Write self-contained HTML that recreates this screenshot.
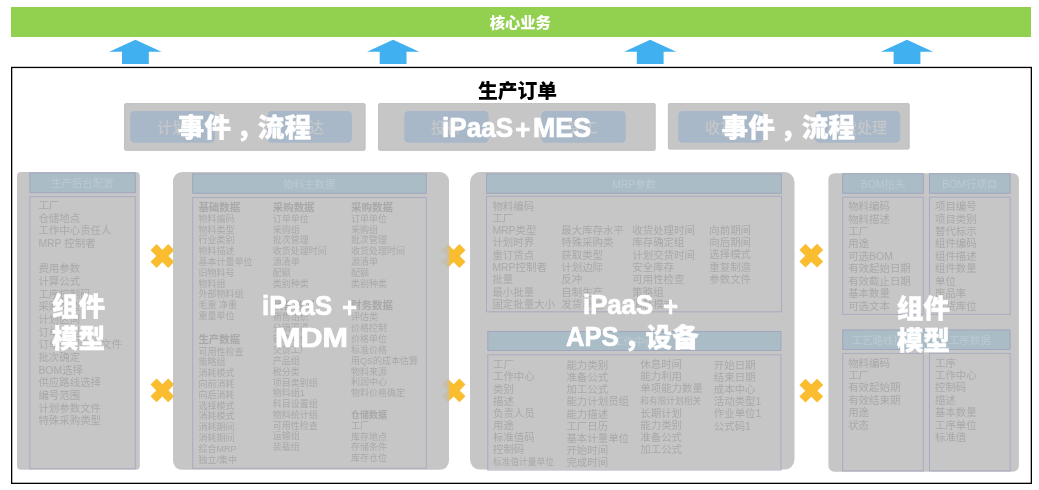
<!DOCTYPE html>
<html lang="zh-CN">
<head>
<meta charset="utf-8">
<title>核心业务 - 生产订单</title>
<style>
html,body{margin:0;padding:0;background:#fff;}
body{width:1039px;height:490px;position:relative;overflow:hidden;font-family:"Liberation Sans","Noto Sans CJK SC",sans-serif;}
svg.bg{position:absolute;left:0;top:0;}
#txt{position:absolute;left:0;top:0;width:1039px;height:490px;will-change:transform;}
.t{position:absolute;white-space:nowrap;margin:0;padding:0;}
.c{text-align:center;}
.n{color:#a9a9a9;}
.n b{color:#a8a8a8;font-weight:bold;}
.n small{font-size:8.7px;}
.h{color:#bccad1;}
.p{color:#c5c7c9;font-weight:500;}
.w{color:#fff;font-weight:900;}
.k{color:#000;font-weight:bold;}
.W{color:#fff;font-weight:900;-webkit-text-stroke:0.35px #fff;}
.L{-webkit-text-stroke:0.7px #fff;}
</style>
</head>
<body>
<svg class="bg" width="1039" height="490" viewBox="0 0 1039 490">
<rect x="11.00" y="7.00" width="1020.00" height="30.00" fill="#92d050"/>
<polygon points="135.40,39.80 161.50,51.70 148.80,51.70 148.80,63.90 122.00,63.90 122.00,51.70 109.30,51.70" fill="#40b0f0"/>
<polygon points="393.10,39.80 419.20,51.70 406.50,51.70 406.50,63.90 379.70,63.90 379.70,51.70 367.00,51.70" fill="#40b0f0"/>
<polygon points="650.20,39.80 676.30,51.70 663.60,51.70 663.60,63.90 636.80,63.90 636.80,51.70 624.10,51.70" fill="#40b0f0"/>
<polygon points="907.00,39.80 933.10,51.70 920.40,51.70 920.40,63.90 893.60,63.90 893.60,51.70 880.90,51.70" fill="#40b0f0"/>
<rect x="11.65" y="67.45" width="1019.7" height="415.9" fill="#fff" stroke="#000" stroke-width="1.3"/>
<polygon points="162.40,249.90 168.20,244.10 174.30,250.20 168.50,256.00 174.30,261.80 168.20,267.90 162.40,262.10 156.60,267.90 150.50,261.80 156.30,256.00 150.50,250.20 156.60,244.10" fill="#f9bd2f"/>
<polygon points="453.60,249.90 459.40,244.10 465.50,250.20 459.70,256.00 465.50,261.80 459.40,267.90 453.60,262.10 447.80,267.90 441.70,261.80 447.50,256.00 441.70,250.20 447.80,244.10" fill="#f9bd2f"/>
<polygon points="811.30,249.60 817.10,243.80 823.20,249.90 817.40,255.70 823.20,261.50 817.10,267.60 811.30,261.80 805.50,267.60 799.40,261.50 805.20,255.70 799.40,249.90 805.50,243.80" fill="#f9bd2f"/>
<polygon points="162.40,384.30 168.20,378.50 174.30,384.60 168.50,390.40 174.30,396.20 168.20,402.30 162.40,396.50 156.60,402.30 150.50,396.20 156.30,390.40 150.50,384.60 156.60,378.50" fill="#f9bd2f"/>
<polygon points="453.60,384.30 459.40,378.50 465.50,384.60 459.70,390.40 465.50,396.20 459.40,402.30 453.60,396.50 447.80,402.30 441.70,396.20 447.50,390.40 441.70,384.60 447.80,378.50" fill="#f9bd2f"/>
<polygon points="811.30,384.60 817.10,378.80 823.20,384.90 817.40,390.70 823.20,396.50 817.10,402.60 811.30,396.80 805.50,402.60 799.40,396.50 805.20,390.70 799.40,384.90 805.50,378.80" fill="#f9bd2f"/>
<rect x="124.60" y="103.60" width="240.50" height="46.70" fill="#c6c6c6" rx="1.2" stroke="#bfbfbf" stroke-width="1"/>
<rect x="378.60" y="103.60" width="276.60" height="46.70" fill="#c6c6c6" rx="1.2" stroke="#bfbfbf" stroke-width="1"/>
<rect x="668.40" y="103.60" width="240.80" height="45.50" fill="#c6c6c6" rx="1.2" stroke="#bfbfbf" stroke-width="1"/>
<rect x="130.10" y="110.90" width="84.90" height="31.90" fill="#a8b8c8" rx="4.6"/>
<rect x="267.40" y="110.90" width="84.50" height="31.90" fill="#a8b8c8" rx="4.6"/>
<rect x="404.20" y="110.90" width="84.50" height="31.90" fill="#a8b8c8" rx="4.6"/>
<rect x="541.20" y="110.90" width="84.50" height="31.90" fill="#a8b8c8" rx="4.6"/>
<rect x="678.20" y="110.90" width="84.80" height="31.90" fill="#a8b8c8" rx="4.6"/>
<rect x="814.90" y="110.90" width="85.30" height="31.90" fill="#a8b8c8" rx="4.6"/>
<defs><clipPath id="cp2"><rect x="173" y="172" width="276" height="298"/></clipPath></defs>
<rect x="17.00" y="172.00" width="122.80" height="297.70" fill="#c6c6c6" rx="4"/>
<rect x="173.00" y="172.00" width="276.00" height="297.80" fill="#c6c6c6" rx="9"/>
<rect x="470.00" y="172.00" width="324.50" height="297.60" fill="#c6c6c6" rx="10"/>
<rect x="828.40" y="173.20" width="190.50" height="298.60" fill="#c6c6c6" rx="6"/>
<polygon points="453.60,249.90 459.40,244.10 465.50,250.20 459.70,256.00 465.50,261.80 459.40,267.90 453.60,262.10 447.80,267.90 441.70,261.80 447.50,256.00 441.70,250.20 447.80,244.10" fill="#c7bfa9" clip-path="url(#cp2)"/>
<polygon points="453.60,384.30 459.40,378.50 465.50,384.60 459.70,390.40 465.50,396.20 459.40,402.30 453.60,396.50 447.80,402.30 441.70,396.20 447.50,390.40 441.70,384.60 447.80,378.50" fill="#c7bfa9" clip-path="url(#cp2)"/>
<rect x="29.90" y="172.90" width="105.40" height="19.80" fill="#aabcc6" stroke="#a2a6bf" stroke-width="1"/>
<rect x="29.90" y="196.70" width="105.40" height="272.00" fill="none" stroke="#a9abc1" stroke-width="1"/>
<rect x="192.70" y="173.90" width="233.60" height="19.40" fill="#aabcc6" stroke="#a2a6bf" stroke-width="1"/>
<rect x="192.70" y="197.50" width="233.60" height="270.80" fill="none" stroke="#a9abc1" stroke-width="1"/>
<rect x="486.50" y="173.90" width="295.00" height="19.40" fill="#aabcc6" stroke="#a2a6bf" stroke-width="1"/>
<rect x="486.50" y="196.30" width="295.00" height="115.50" fill="none" stroke="#a9abc1" stroke-width="1"/>
<rect x="487.80" y="331.50" width="293.20" height="19.00" fill="#aabcc6" stroke="#a2a6bf" stroke-width="1"/>
<rect x="487.80" y="354.80" width="293.20" height="115.20" fill="none" stroke="#a9abc1" stroke-width="1"/>
<rect x="842.70" y="173.70" width="80.60" height="19.60" fill="#aabcc6" stroke="#a2a6bf" stroke-width="1"/>
<rect x="929.50" y="173.70" width="80.60" height="19.60" fill="#aabcc6" stroke="#a2a6bf" stroke-width="1"/>
<rect x="842.70" y="197.10" width="80.60" height="117.30" fill="none" stroke="#a9abc1" stroke-width="1"/>
<rect x="929.50" y="197.10" width="80.60" height="117.30" fill="none" stroke="#a9abc1" stroke-width="1"/>
<rect x="842.70" y="329.90" width="167.40" height="19.60" fill="#aabcc6" stroke="#a2a6bf" stroke-width="1"/>
<rect x="842.70" y="353.40" width="80.60" height="117.50" fill="none" stroke="#a9abc1" stroke-width="1"/>
<rect x="929.50" y="353.40" width="80.60" height="117.50" fill="none" stroke="#a9abc1" stroke-width="1"/>
</svg>
<div id="txt">
<div class="t c w" style="left:320.30px;top:13.30px;width:400px;font-size:15.3px;line-height:20px;">核心业务</div>
<div class="t c k" style="left:317.50px;top:78.00px;width:400px;font-size:19.8px;line-height:26px;font-weight:900;">生产订单</div>
<div class="t c p" style="left:-28.05px;top:117.90px;width:400px;font-size:15px;line-height:20px;">计划</div>
<div class="t c p" style="left:109.05px;top:117.90px;width:400px;font-size:15px;line-height:20px;">下达</div>
<div class="t c p" style="left:245.85px;top:117.90px;width:400px;font-size:15px;line-height:20px;">投料</div>
<div class="t c p" style="left:382.85px;top:117.90px;width:400px;font-size:15px;line-height:20px;">完工</div>
<div class="t c p" style="left:520.00px;top:117.90px;width:400px;font-size:15px;line-height:20px;">收货</div>
<div class="t c p" style="left:656.95px;top:117.90px;width:400px;font-size:15px;line-height:20px;">后续处理</div>
<div class="t c h" style="left:-117.60px;top:177.00px;width:400px;font-size:10.45px;line-height:14px;">生产后台配置</div>
<div class="t c h" style="left:109.30px;top:177.80px;width:400px;font-size:10.45px;line-height:14px;">物料主数据</div>
<div class="t c h" style="left:434.00px;top:177.80px;width:400px;font-size:10.45px;line-height:14px;">MRP参数</div>
<div class="t c h" style="left:434.00px;top:335.20px;width:400px;font-size:10.45px;line-height:14px;">工作中心</div>
<div class="t c h" style="left:683.00px;top:177.60px;width:400px;font-size:10.45px;line-height:14px;">BOM抬头</div>
<div class="t c h" style="left:769.80px;top:177.60px;width:400px;font-size:10.45px;line-height:14px;">BOM行项目</div>
<div class="t c h" style="left:683.00px;top:333.90px;width:400px;font-size:10.45px;line-height:14px;">工艺路线抬头</div>
<div class="t c h" style="left:769.80px;top:333.90px;width:400px;font-size:10.45px;line-height:14px;">工序数据</div>
<div class="t n" style="left:38.40px;top:200.18px;font-size:10.45px;line-height:12.65px;">工厂<br>仓储地点<br>工作中心责任人<br>MRP 控制者<br><br>费用参数<br>计算公式<br>工序控制码<br>采购类型<br>计划区间<br>订单类型<br>订单类型参数文件<br>批次确定<br>BOM选择<br>供应路线选择<br>编号范围<br>计划参数文件<br>特殊采购类型<br></div>
<div class="t n" style="left:198.40px;top:201.55px;font-size:10.45px;line-height:12.5px;"><b>基础数据</b></div>
<div class="t n" style="left:198.40px;top:213.90px;font-size:9.0px;line-height:10.8px;">物料编码</div>
<div class="t n" style="left:198.40px;top:224.70px;font-size:9.0px;line-height:10.8px;">物料类型</div>
<div class="t n" style="left:198.40px;top:235.40px;font-size:9.0px;line-height:10.8px;">行业类别</div>
<div class="t n" style="left:198.40px;top:246.20px;font-size:9.0px;line-height:10.8px;">物料描述</div>
<div class="t n" style="left:198.40px;top:257.00px;font-size:9.0px;line-height:10.8px;">基本计量单位</div>
<div class="t n" style="left:198.40px;top:267.70px;font-size:9.0px;line-height:10.8px;">旧物料号</div>
<div class="t n" style="left:198.40px;top:278.50px;font-size:9.0px;line-height:10.8px;">物料组</div>
<div class="t n" style="left:198.40px;top:289.20px;font-size:9.0px;line-height:10.8px;">外部物料组</div>
<div class="t n" style="left:198.40px;top:300.00px;font-size:9.0px;line-height:10.8px;">毛重 净重</div>
<div class="t n" style="left:198.40px;top:310.70px;font-size:9.0px;line-height:10.8px;">重量单位</div>
<div class="t n" style="left:198.40px;top:333.95px;font-size:10.45px;line-height:12.5px;"><b>生产数据</b></div>
<div class="t n" style="left:198.40px;top:346.60px;font-size:9.0px;line-height:10.8px;">可用性检查</div>
<div class="t n" style="left:198.40px;top:357.40px;font-size:9.0px;line-height:10.8px;">策略组</div>
<div class="t n" style="left:198.40px;top:368.20px;font-size:9.0px;line-height:10.8px;">消耗模式</div>
<div class="t n" style="left:198.40px;top:379.00px;font-size:9.0px;line-height:10.8px;">向前消耗</div>
<div class="t n" style="left:198.40px;top:389.80px;font-size:9.0px;line-height:10.8px;">向后消耗</div>
<div class="t n" style="left:198.40px;top:400.60px;font-size:9.0px;line-height:10.8px;">选择模式</div>
<div class="t n" style="left:198.40px;top:411.40px;font-size:9.0px;line-height:10.8px;">消耗模式</div>
<div class="t n" style="left:198.40px;top:422.20px;font-size:9.0px;line-height:10.8px;">消耗期间</div>
<div class="t n" style="left:198.40px;top:433.00px;font-size:9.0px;line-height:10.8px;">消耗期间</div>
<div class="t n" style="left:198.40px;top:443.80px;font-size:9.0px;line-height:10.8px;">综合MRP</div>
<div class="t n" style="left:198.40px;top:454.60px;font-size:9.0px;line-height:10.8px;">独立/集中</div>
<div class="t n" style="left:272.80px;top:201.55px;font-size:10.45px;line-height:12.5px;"><b>采购数据</b></div>
<div class="t n" style="left:272.80px;top:213.90px;font-size:9.0px;line-height:10.8px;">订单单位</div>
<div class="t n" style="left:272.80px;top:224.70px;font-size:9.0px;line-height:10.8px;">采购组</div>
<div class="t n" style="left:272.80px;top:235.40px;font-size:9.0px;line-height:10.8px;">批次管理</div>
<div class="t n" style="left:272.80px;top:246.20px;font-size:9.0px;line-height:10.8px;">收货处理时间</div>
<div class="t n" style="left:272.80px;top:257.00px;font-size:9.0px;line-height:10.8px;">源清单</div>
<div class="t n" style="left:272.80px;top:267.70px;font-size:9.0px;line-height:10.8px;">配额</div>
<div class="t n" style="left:272.80px;top:278.50px;font-size:9.0px;line-height:10.8px;">类别种类</div>
<div class="t n" style="left:272.80px;top:299.95px;font-size:10.45px;line-height:12.5px;"><b>销售数据</b></div>
<div class="t n" style="left:272.80px;top:312.20px;font-size:9.0px;line-height:10.8px;">销售组织</div>
<div class="t n" style="left:272.80px;top:323.10px;font-size:9.0px;line-height:10.8px;">分销渠道</div>
<div class="t n" style="left:272.80px;top:334.00px;font-size:9.0px;line-height:10.8px;">销售单位</div>
<div class="t n" style="left:272.80px;top:345.20px;font-size:9.0px;line-height:10.8px;">交货工厂</div>
<div class="t n" style="left:272.80px;top:355.90px;font-size:9.0px;line-height:10.8px;">产品组</div>
<div class="t n" style="left:272.80px;top:366.60px;font-size:9.0px;line-height:10.8px;">税分类</div>
<div class="t n" style="left:272.80px;top:377.50px;font-size:9.0px;line-height:10.8px;">项目类别组</div>
<div class="t n" style="left:272.80px;top:388.20px;font-size:9.0px;line-height:10.8px;">物料组1</div>
<div class="t n" style="left:272.80px;top:399.00px;font-size:9.0px;line-height:10.8px;">科目设置组</div>
<div class="t n" style="left:272.80px;top:409.90px;font-size:9.0px;line-height:10.8px;">物料统计组</div>
<div class="t n" style="left:272.80px;top:420.60px;font-size:9.0px;line-height:10.8px;">可用性检查</div>
<div class="t n" style="left:272.80px;top:431.40px;font-size:9.0px;line-height:10.8px;">运输组</div>
<div class="t n" style="left:272.80px;top:442.10px;font-size:9.0px;line-height:10.8px;">装载组</div>
<div class="t n" style="left:351.10px;top:201.55px;font-size:10.45px;line-height:12.5px;"><b>采购数据</b></div>
<div class="t n" style="left:351.10px;top:213.90px;font-size:9.0px;line-height:10.8px;">订单单位</div>
<div class="t n" style="left:351.10px;top:224.70px;font-size:9.0px;line-height:10.8px;">采购组</div>
<div class="t n" style="left:351.10px;top:235.40px;font-size:9.0px;line-height:10.8px;">批次管理</div>
<div class="t n" style="left:351.10px;top:246.20px;font-size:9.0px;line-height:10.8px;">收货处理时间</div>
<div class="t n" style="left:351.10px;top:257.00px;font-size:9.0px;line-height:10.8px;">源清单</div>
<div class="t n" style="left:351.10px;top:267.70px;font-size:9.0px;line-height:10.8px;">配额</div>
<div class="t n" style="left:351.10px;top:278.50px;font-size:9.0px;line-height:10.8px;">类别种类</div>
<div class="t n" style="left:351.10px;top:299.95px;font-size:10.45px;line-height:12.5px;"><b>财务数据</b></div>
<div class="t n" style="left:351.10px;top:312.20px;font-size:9.0px;line-height:10.8px;">评估类</div>
<div class="t n" style="left:351.10px;top:323.10px;font-size:9.0px;line-height:10.8px;">价格控制</div>
<div class="t n" style="left:351.10px;top:334.00px;font-size:9.0px;line-height:10.8px;">价格单位</div>
<div class="t n" style="left:351.10px;top:344.80px;font-size:9.0px;line-height:10.8px;">标准价格</div>
<div class="t n" style="left:351.10px;top:355.60px;font-size:9.0px;line-height:10.8px;">用QS的成本估算</div>
<div class="t n" style="left:351.10px;top:366.50px;font-size:9.0px;line-height:10.8px;">物料来源</div>
<div class="t n" style="left:351.10px;top:377.30px;font-size:9.0px;line-height:10.8px;">利润中心</div>
<div class="t n" style="left:351.10px;top:388.20px;font-size:9.0px;line-height:10.8px;">物料价格确定</div>
<div class="t n" style="left:351.10px;top:410.00px;font-size:9.0px;line-height:10.8px;"><b>仓储数据</b></div>
<div class="t n" style="left:351.10px;top:420.60px;font-size:9.0px;line-height:10.8px;">工厂</div>
<div class="t n" style="left:351.10px;top:431.50px;font-size:9.0px;line-height:10.8px;">库存地点</div>
<div class="t n" style="left:351.10px;top:442.40px;font-size:9.0px;line-height:10.8px;">存储条件</div>
<div class="t n" style="left:351.10px;top:453.30px;font-size:9.0px;line-height:10.8px;">库存仓位</div>
<div class="t n" style="left:492.40px;top:200.55px;font-size:10.45px;line-height:12.3px;">物料编码<br>工厂<br>MRP类型<br>计划时界<br>重订货点<br>MRP控制者<br>批量<br>最小批量<br>固定批量大小<br></div>
<div class="t n" style="left:561.30px;top:225.15px;font-size:10.45px;line-height:12.3px;">最大库存水平<br>特殊采购类<br>获取类型<br>计划边际<br>反冲<br>自制生产<br>发货单位<br></div>
<div class="t n" style="left:632.30px;top:225.15px;font-size:10.45px;line-height:12.3px;">收货处理时间<br>库存确定组<br>计划交货时间<br>安全库存<br>可用性检查<br>策略组<br>消耗模式<br></div>
<div class="t n" style="left:709.30px;top:224.75px;font-size:10.45px;line-height:12.3px;">向前期间<br>向后期间<br>选择模式<br>重复制造<br>参数文件<br></div>
<div class="t n" style="left:493.00px;top:359.35px;font-size:10.45px;line-height:12.1px;">工厂<br>工作中心<br>类别<br>描述<br>负责人员<br>用途<br>标准值码<br>控制码<br><small>标准值计量单位</small><br></div>
<div class="t n" style="left:566.40px;top:359.70px;font-size:10.45px;line-height:12.2px;">能力类别<br>准备公式<br>加工公式<br>能力计划员组<br>能力描述<br>工厂日历<br>基本计量单位<br>开始时间<br>完成时间<br></div>
<div class="t n" style="left:640.30px;top:359.02px;font-size:10.45px;line-height:11.95px;">休息时间<br>能力利用<br>单项能力数量<br><small>和有限计划相关</small><br>长期计划<br>能力类别<br>准备公式<br>加工公式<br></div>
<div class="t n" style="left:713.80px;top:359.73px;font-size:10.45px;line-height:12.15px;">开始日期<br>结束日期<br>成本中心<br>活动类型1<br>作业单位1<br>公式码1<br></div>
<div class="t n" style="left:848.20px;top:201.08px;font-size:10.45px;line-height:12.45px;">物料编码<br>物料描述<br>工厂<br>用途<br>可选BOM<br>有效起始日期<br>有效截止日期<br>基本数量<br>可选文本<br></div>
<div class="t n" style="left:935.00px;top:201.08px;font-size:10.45px;line-height:12.45px;">项目编号<br>项目类别<br>替代标示<br>组件编码<br>组件描述<br>组件数量<br>单位<br>废品率<br>发货库位<br></div>
<div class="t n" style="left:848.20px;top:357.57px;font-size:10.45px;line-height:12.45px;">物料编码<br>工厂<br>有效起始期<br>有效结束期<br>用途<br>状态<br></div>
<div class="t n" style="left:935.00px;top:357.57px;font-size:10.45px;line-height:12.45px;">工序<br>工作中心<br>控制码<br>描述<br>基本数量<br>工序单位<br>标准值<br></div>
<div class="t W" style="left:177.70px;top:108.34px;font-size:26.7px;line-height:40px;">事件</div>
<div class="t W" style="left:236.10px;top:108.34px;font-size:26.7px;line-height:40px;">，</div>
<div class="t W" style="left:257.80px;top:108.34px;font-size:26.7px;line-height:40px;">流程</div>
<div class="t W L" style="left:442.20px;top:107.95px;font-size:26.7px;line-height:40px;transform-origin:0 29.25px;transform:scale(0.977,1.03);">iPaaS</div>
<div class="t W" style="left:515.40px;top:109.75px;font-size:26.7px;line-height:40px;transform-origin:0 29.25px;transform:scale(0.99,1.03);">+</div>
<div class="t W L" style="left:533.10px;top:107.95px;font-size:26.7px;line-height:40px;transform-origin:0 29.25px;transform:scale(1.0,1.03);">MES</div>
<div class="t W" style="left:721.60px;top:108.34px;font-size:26.7px;line-height:40px;">事件</div>
<div class="t W" style="left:780.00px;top:108.34px;font-size:26.7px;line-height:40px;">，</div>
<div class="t W" style="left:801.70px;top:108.34px;font-size:26.7px;line-height:40px;">流程</div>
<div class="t W" style="left:51.80px;top:286.89px;font-size:26.7px;line-height:40px;">组件</div>
<div class="t W" style="left:51.80px;top:318.69px;font-size:26.7px;line-height:40px;">模型</div>
<div class="t W L" style="left:261.90px;top:285.95px;font-size:26.7px;line-height:40px;transform-origin:0 29.25px;transform:scale(0.964,1.03);">iPaaS</div>
<div class="t W" style="left:342.30px;top:287.55px;font-size:26.7px;line-height:40px;transform-origin:0 29.25px;transform:scale(0.97,1.03);">+</div>
<div class="t W L" style="left:274.80px;top:317.85px;font-size:26.7px;line-height:40px;transform-origin:0 29.25px;transform:scale(1.145,1.03);">MDM</div>
<div class="t W L" style="left:583.05px;top:284.95px;font-size:26.7px;line-height:40px;transform-origin:0 29.25px;transform:scale(0.964,1.03);">iPaaS</div>
<div class="t W" style="left:663.45px;top:286.75px;font-size:26.7px;line-height:40px;transform-origin:0 29.25px;transform:scale(0.97,1.03);">+</div>
<div class="t W L" style="left:566.05px;top:317.45px;font-size:26.7px;line-height:40px;transform-origin:0 29.25px;transform:scale(0.958,1.05);">APS</div>
<div class="t W" style="left:623.80px;top:318.44px;font-size:26.7px;line-height:40px;">，</div>
<div class="t W" style="left:645.50px;top:318.44px;font-size:26.7px;line-height:40px;">设备</div>
<div class="t W" style="left:896.65px;top:288.64px;font-size:26.7px;line-height:40px;">组件</div>
<div class="t W" style="left:896.65px;top:320.99px;font-size:26.7px;line-height:40px;">模型</div>
</div>
</body>
</html>
